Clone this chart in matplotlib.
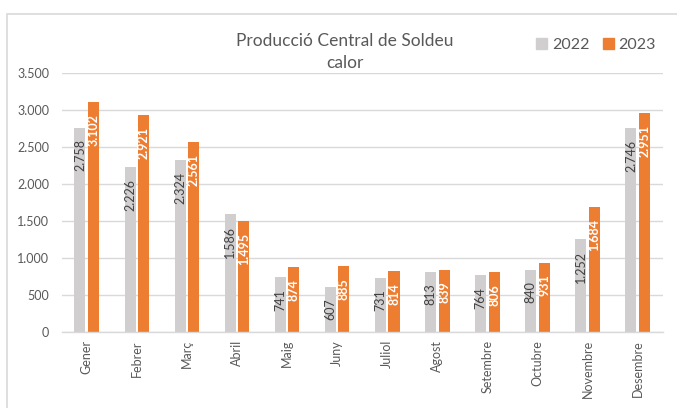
import matplotlib.pyplot as plt
from matplotlib.patches import Patch, Rectangle
import numpy as np

plt.rcParams['font.family'] = ['Lato', 'DejaVu Sans']

# Monthly production data
months = ['Gener', 'Febrer', 'Març', 'Abril', 'Maig', 'Juny', 'Juliol',
          'Agost', 'Setembre', 'Octubre', 'Novembre', 'Desembre']
prod_2022 = [2758, 2226, 2324, 1586, 741, 607, 731, 813, 764, 840, 1252, 2746]
prod_2023 = [3102, 2921, 2561, 1495, 874, 885, 814, 839, 806, 931, 1684, 2951]

gray = '#D0CECE'
orange = '#ED7D31'
text_col = '#595959'

fig = plt.figure(figsize=(6.77, 4.08), dpi=100)
ax = fig.add_axes([0.0911, 0.187, 0.8878, 0.635])

# chart frame like the Excel chart area
fig.patches.append(Rectangle((7 / 677, -0.1), 1.0, 1 - 14 / 408 + 0.1,
                             transform=fig.transFigure, fill=False,
                             edgecolor='#D9D9D9', linewidth=1.2))

x = np.arange(len(months))
w = 0.22
off = 0.135
b1 = ax.bar(x - off, prod_2022, w, color=gray, zorder=2)
b2 = ax.bar(x + off, prod_2023, w, color=orange, zorder=2)

def fmt(v):
    return f"{v:,}".replace(',', '.')

for rect, v in zip(b1, prod_2022):
    ax.annotate(fmt(v), (rect.get_x() + rect.get_width() / 2, v),
                xytext=(0, -8.5), textcoords='offset points',
                rotation=90, ha='center', va='top', fontsize=9,
                color='#404040', zorder=3)
for rect, v in zip(b2, prod_2023):
    ax.annotate(fmt(v), (rect.get_x() + rect.get_width() / 2, v),
                xytext=(0, -8.5), textcoords='offset points',
                rotation=90, ha='center', va='top', fontsize=9,
                color='white', fontweight='bold', zorder=3)

ax.set_xlim(-0.5, len(months) - 0.5)
ax.set_ylim(0, 3500)
ax.set_yticks(np.arange(0, 3501, 500))
ax.set_yticklabels([fmt(t) for t in range(0, 3501, 500)])
ax.set_xticks(x)
ax.set_xticklabels(months, rotation=90)
ax.tick_params(axis='both', length=0, colors=text_col, labelsize=9)
ax.tick_params(axis='y', pad=9)
ax.tick_params(axis='x', pad=6)

ax.grid(axis='y', color='#D9D9D9', linewidth=1, zorder=0)
for s in ['top', 'right', 'left']:
    ax.spines[s].set_visible(False)
ax.spines['bottom'].set_color('#D9D9D9')
ax.spines['bottom'].set_linewidth(1)

fig.text(0.509, 0.900, 'Producció Central de Soldeu', ha='center', va='center',
         fontsize=12.5, color=text_col)
fig.text(0.509, 0.845, 'calor', ha='center', va='center',
         fontsize=12.5, color=text_col)

handles = [Patch(color=gray, label='2022'), Patch(color=orange, label='2023')]
fig.legend(handles=handles, loc='center right', bbox_to_anchor=(0.99, 0.89),
           ncol=2, frameon=False, fontsize=11.5, handlelength=0.7,
           handleheight=0.7, handletextpad=0.3, columnspacing=0.8,
           labelcolor=text_col)

plt.savefig('out.png', dpi=100)
